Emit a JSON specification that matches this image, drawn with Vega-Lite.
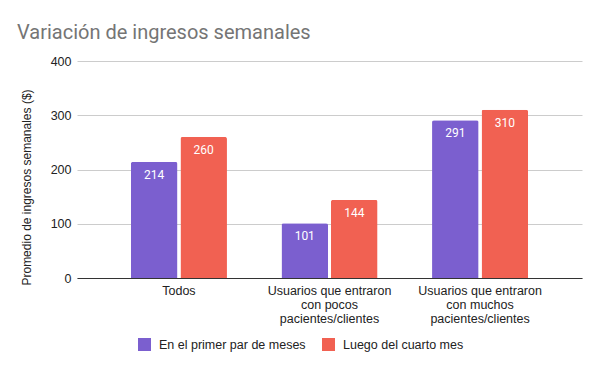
{
  "$schema": "https://vega.github.io/schema/vega-lite/v6.json",
  "width": 505,
  "height": 217,
  "autosize": {"type": "none"},
  "padding": {"left": 77, "top": 61, "right": 18, "bottom": 93},
  "background": "white",
  "title": {
    "text": "Variación de ingresos semanales",
    "anchor": "start",
    "frame": "group",
    "dx": -60,
    "offset": 12,
    "font": "Roboto",
    "fontSize": 20,
    "fontWeight": "normal",
    "color": "#757575"
  },
  "data": {
    "values": [
      {"grupo": "Todos", "periodo": "En el primer par de meses", "ingreso": 214},
      {"grupo": "Todos", "periodo": "Luego del cuarto mes", "ingreso": 260},
      {"grupo": "Usuarios que entraron con pocos pacientes/clientes", "periodo": "En el primer par de meses", "ingreso": 101},
      {"grupo": "Usuarios que entraron con pocos pacientes/clientes", "periodo": "Luego del cuarto mes", "ingreso": 144},
      {"grupo": "Usuarios que entraron con muchos pacientes/clientes", "periodo": "En el primer par de meses", "ingreso": 291},
      {"grupo": "Usuarios que entraron con muchos pacientes/clientes", "periodo": "Luego del cuarto mes", "ingreso": 310}
    ]
  },
  "encoding": {
    "x": {
      "field": "grupo",
      "type": "nominal",
      "sort": null,
      "scale": {"paddingInner": 0.362, "paddingOuter": 0.358},
      "axis": {
        "title": null,
        "labelAngle": 0,
        "labelFont": "Liberation Sans",
        "labelFontSize": 12.5,
        "labelColor": "#222222",
        "labelLineHeight": 14,
        "labelPadding": 6,
        "labelLimit": 200,
        "ticks": false,
        "domainColor": "#333333",
        "labelExpr": "split(replace(replace(datum.value, ' con ', '|con '), ' pacientes', '|pacientes'), '|')"
      }
    },
    "xOffset": {
      "field": "periodo",
      "type": "nominal",
      "scale": {"paddingInner": 0.06}
    },
    "y": {
      "field": "ingreso",
      "type": "quantitative",
      "scale": {"domain": [0, 400]},
      "axis": {
        "title": "Promedio de ingresos semanales ($)",
        "titleFont": "Liberation Sans",
        "titleFontSize": 12,
        "titleFontWeight": "normal",
        "titleColor": "#222222",
        "titleX": -51,
        "titleY": 126,
        "titleBaseline": "middle",
        "titleAngle": -90,
        "values": [0, 100, 200, 300, 400],
        "labelFont": "Liberation Sans",
        "labelFontSize": 12.5,
        "labelColor": "#222222",
        "labelPadding": 6,
        "ticks": false,
        "domain": false,
        "gridColor": "#cccccc"
      }
    }
  },
  "layer": [
    {
      "mark": {"type": "bar", "cornerRadiusTopLeft": 2, "cornerRadiusTopRight": 2},
      "encoding": {
        "color": {
          "field": "periodo",
          "type": "nominal",
          "scale": {
            "domain": ["En el primer par de meses", "Luego del cuarto mes"],
            "range": ["#7b5fcf", "#f16152"]
          },
          "legend": {
            "title": null,
            "orient": "none",
            "direction": "horizontal",
            "legendX": 61,
            "legendY": 277,
            "symbolType": "square",
            "symbolSize": 169,
            "symbolStrokeWidth": 0,
            "labelFont": "Liberation Sans",
            "labelFontSize": 12.5,
            "labelColor": "#222222",
            "labelOffset": 8,
            "columnPadding": 16
          }
        }
      }
    },
    {
      "mark": {"type": "text", "baseline": "middle", "dy": 13, "color": "white", "font": "Roboto", "fontSize": 12},
      "encoding": {
        "text": {"field": "ingreso", "type": "quantitative"}
      }
    }
  ],
  "config": {
    "view": {"stroke": null}
  }
}
